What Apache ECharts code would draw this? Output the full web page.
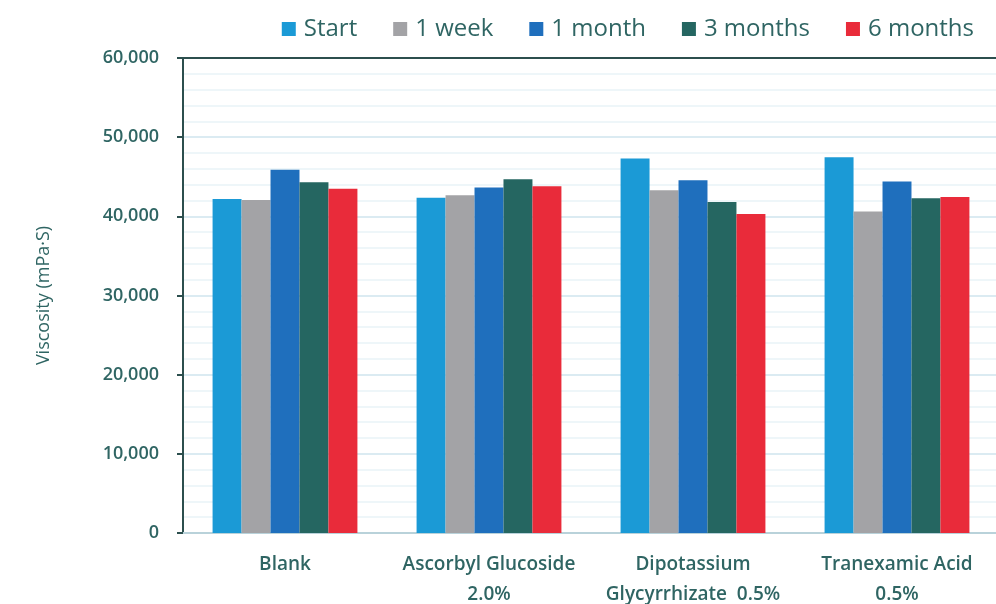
<!DOCTYPE html>
<html>
<head>
<meta charset="utf-8">
<script src="https://cdn.jsdelivr.net/npm/echarts@6/dist/echarts.min.js"></script>
<style>
  html, body { margin: 0; padding: 0; background: #fff; }
  #main { width: 996px; height: 604px; }
</style>
</head>
<body>
<div id="main"></div>
<script>
var categories = ["Blank", "Ascorbyl Glucoside\n2.0%", "Dipotassium\nGlycyrrhizate  0.5%", "Tranexamic Acid\n0.5%"];
var seriesNames = ["Start", "1 week", "1 month", "3 months", "6 months"];
var start = [42200, 42350, 47300, 47450];
var week1 = [42050, 42650, 43300, 40600];
var month1 = [45900, 43650, 44550, 44400];
var month3 = [44300, 44700, 41800, 42300];
var month6 = [43500, 43800, 40300, 42450];
var yTicks = [0, 10000, 20000, 30000, 40000, 50000, 60000];

var colors = ["#1b9ad6", "#a3a3a6", "#1f6fbd", "#256661", "#e92b3a"];
var textColor = "#2f6563";
var values = [start, week1, month1, month3, month6];

var chartDom = document.getElementById("main");
var myChart = echarts.init(chartDom, null, { renderer: "canvas" });

var option = {
  animation: false,
  color: colors,
  legend: {
    right: 17,
    top: 12,
    itemWidth: 14,
    itemHeight: 14,
    itemGap: 36,
    icon: "rect",
    textStyle: {
      color: textColor,
      fontSize: 24,
      fontFamily: "Open Sans",
      padding: [0, 0, 0, 3],
    },
    data: seriesNames,
  },
  grid: {
    left: 183,
    right: -3,
    top: 58,
    bottom: 71,
    outerBoundsMode: "none",
  },
  xAxis: [
    {
      type: "category",
      data: categories,
      axisLine: { show: true, lineStyle: { color: "#b9d2da", width: 2 } },
      axisTick: { show: false },
      axisLabel: {
        interval: 0,
        hideOverlap: false,
        color: textColor,
        fontSize: 19,
        fontFamily: "Open Sans",
        fontWeight: 600,
        lineHeight: 30,
        margin: 17,
      },
    },
    {
      type: "category",
      position: "top",
      data: categories,
      axisLine: { show: true, lineStyle: { color: "#2c4f4e", width: 2 } },
      axisTick: { show: false },
      axisLabel: { show: false },
    },
  ],
  yAxis: {
    type: "value",
    min: yTicks[0],
    max: yTicks[yTicks.length - 1],
    interval: 10000,
    name: "Viscosity (mPa\u00b7S)",
    nameLocation: "middle",
    nameGap: 130,
    nameTextStyle: {
      color: textColor,
      fontSize: 18,
      fontFamily: "Open Sans",
    },
    axisLine: { show: true, lineStyle: { color: "#2c4f4e", width: 2 } },
    axisTick: { show: true, length: 6, inside: false, lineStyle: { color: "#2c4f4e", width: 2 } },
    axisLabel: {
      color: textColor,
      fontSize: 18,
      fontFamily: "Open Sans",
      fontWeight: 600,
      margin: 24,
      formatter: function (v) {
        return v.toLocaleString("en-US");
      },
    },
    splitLine: { show: true, lineStyle: { color: "#cfe5ee", width: 1.5 } },
    minorTick: { show: false, splitNumber: 5 },
    minorSplitLine: { show: true, lineStyle: { color: "#e9f3f7", width: 1.5 } },
  },
  series: seriesNames.map(function (name, i) {
    return {
      name: name,
      type: "bar",
      barGap: "0%",
      barCategoryGap: "29%",
      data: values[i],
      itemStyle: { color: colors[i] },
    };
  }),
};

option && myChart.setOption(option);
</script>
</body>
</html>
